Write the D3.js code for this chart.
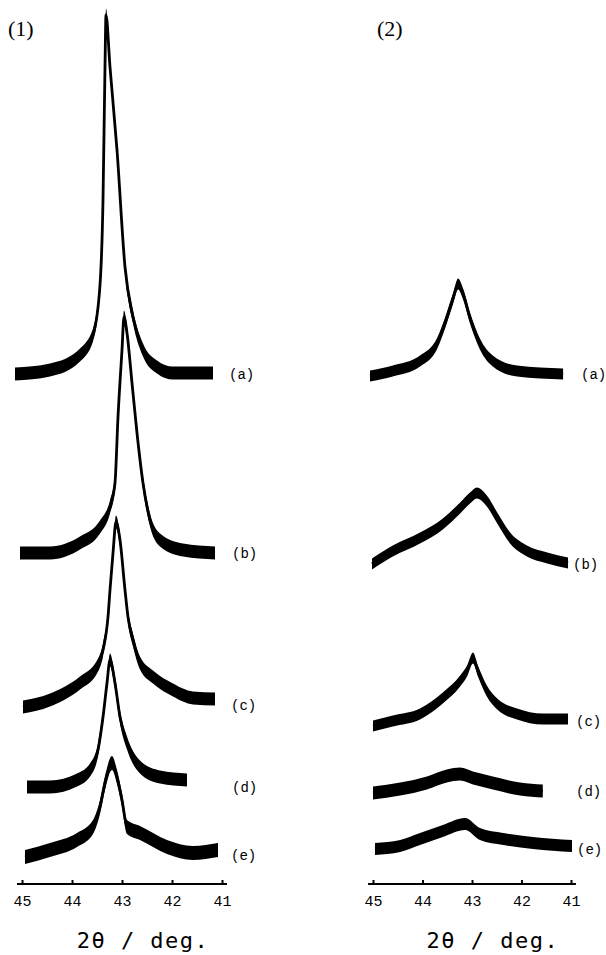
<!DOCTYPE html>
<html>
<head>
<meta charset="utf-8">
<script src="https://cdn.jsdelivr.net/npm/d3@7"></script>
<style>
  body { margin: 0; background: #fff; }
  svg { display: block; }
</style>
</head>
<body>
<svg id="main-svg" width="606" height="955"></svg>
<script>
'use strict';

// trace labels and axis ticks
const traceNames = ['(a)', '(b)', '(c)', '(d)', '(e)'];
const tickValues = [45, 44, 43, 42, 41];
const panelNames = ['(1)', '(2)'];

// panel (1): 2theta points and intensity above each trace's offset (a.u.)
const p1Theta = [
    [45.14, 44.44, 43.84, 43.58, 43.44, 43.38, 43.34, 43.32, 43.24, 43.10, 42.94, 42.78, 42.58, 42.30, 41.98, 41.18],
    [45.04, 44.44, 43.84, 43.44, 43.24, 43.14, 43.08, 43.00, 42.96, 42.90, 42.80, 42.70, 42.58, 42.44, 42.24, 41.78, 41.14],
    [44.98, 44.44, 43.84, 43.50, 43.38, 43.28, 43.24, 43.18, 43.12, 43.04, 42.94, 42.88, 42.78, 42.64, 42.38, 41.98, 41.58, 41.14],
    [44.90, 44.44, 43.90, 43.64, 43.48, 43.38, 43.30, 43.24, 43.14, 43.04, 42.90, 42.64, 42.24, 41.70],
    [44.94, 44.44, 43.90, 43.58, 43.44, 43.34, 43.20, 43.10, 43.00, 42.90, 42.64, 42.10, 41.58, 41.08],
];
const p1Int = [
    [0, 4, 19, 39, 89, 174, 307, 359, 307, 224, 107, 57, 24, 7, 1, 1],
    [0, 0, 10, 26, 46, 70, 136, 203, 236, 220, 170, 120, 70, 33, 13, 3, 0],
    [-2, 5, 22, 38, 55, 88, 115, 152, 183, 165, 115, 88, 65, 42, 28, 15, 7, 6],
    [0, 0, 7, 17, 37, 70, 104, 127, 104, 70, 44, 20, 10, 7],
    [-2, 5, 15, 28, 48, 72, 92, 78, 55, 28, 22, 8, 2, 5],
];
const p1Offset = [510, 331, 179, 97, 29];
const p1Noise = [13, 13, 13, 13, 14];

// panel (2)
const p2Theta = [
    [45.06, 44.60, 44.05, 43.71, 43.51, 43.38, 43.28, 43.18, 43.04, 42.84, 42.58, 42.09, 41.16],
    [45.02, 44.60, 44.05, 43.59, 43.24, 43.04, 42.90, 42.70, 42.49, 42.23, 41.89, 41.48, 41.06],
    [45.00, 44.60, 44.05, 43.59, 43.24, 43.10, 42.98, 42.88, 42.70, 42.49, 42.09, 41.57, 41.06],
    [45.00, 44.45, 43.91, 43.51, 43.24, 42.98, 42.58, 42.03, 41.57],
    [44.96, 44.45, 44.05, 43.59, 43.14, 42.84, 42.37, 41.77, 40.98],
];
const p2Int = [
    [-2, 3, 13, 30, 56, 76, 90, 80, 56, 30, 13, 3, 0],
    [0, 13, 26, 40, 56, 66, 71, 63, 46, 26, 13, 6, 1],
    [-5, 0, 7, 23, 40, 50, 63, 50, 30, 17, 7, 2, 2],
    [-2, 2, 8, 15, 17, 13, 8, 2, 0],
    [0, 3, 10, 18, 25, 15, 10, 6, 3],
];
const p2Offset = [510, 320, 163, 93, 35];
const p2Noise = [11, 11, 11, 13, 12];


const Render = () => {
    const svg = d3.select('#main-svg');
    const y = d3.scaleLinear().domain([0, 884]).range([884, 0]);
    const mono = '"Liberation Mono", "DejaVu Sans Mono", monospace';

    const drawPanel = (cfg) => {
        const x = d3.scaleLinear().domain([45, 41]).range(cfg.range);
        const g = svg.append('g');

        cfg.theta.forEach((th, i) => {
            const pts = th.map((t, j) => ({t: t, v: cfg.offset[i] + cfg.int[i][j]}));
            const half = cfg.noise[i] / 2;

            // noise band round the trace
            g.append('path')
                .datum(pts)
                .attr('fill', '#000')
                .attr('d', d3.area()
                    .curve(d3.curveMonotoneX)
                    .x(d => x(d.t))
                    .y0(d => y(d.v) + half)
                    .y1(d => y(d.v) - half));

            g.append('path')
                .datum(pts)
                .attr('fill', 'none')
                .attr('stroke', '#000')
                .attr('stroke-width', 2.8)
                .attr('stroke-linejoin', 'round')
                .attr('d', d3.line()
                    .curve(d3.curveMonotoneX)
                    .x(d => x(d.t))
                    .y(d => y(d.v)));

            g.append('text')
                .attr('x', cfg.labelX[i])
                .attr('y', y(cfg.offset[i]) + 5)
                .style('font-family', mono)
                .style('font-size', '14px')
                .text(traceNames[i]);
        });

        // x axis, ticks pointing up
        const axis = g.append('g')
            .attr('transform', `translate(0,${y(0)})`)
            .call(d3.axisBottom(x)
                .tickValues(tickValues)
                .tickFormat(d3.format('d'))
                .tickSizeInner(-4)
                .tickSizeOuter(0)
                .tickPadding(11));
        axis.select('.domain').remove();
        axis.selectAll('.tick line').attr('stroke-width', 2);
        axis.selectAll('.tick text')
            .style('font-family', mono)
            .style('font-size', '15px')
            .attr('fill', '#000');
        axis.append('line')
            .attr('x1', x(45.1)).attr('x2', x(40.9))
            .attr('stroke', '#000')
            .attr('stroke-width', 2);

        g.append('text')
            .attr('x', x(42.58))
            .attr('y', 948)
            .attr('text-anchor', 'middle')
            .style('font-family', '"DejaVu Sans Mono", monospace')
            .style('font-size', '22px')
            .style('letter-spacing', '1.5px')
            .text('2θ / deg.');

        g.append('text')
            .attr('x', cfg.nameX)
            .attr('y', 36)
            .style('font-family', '"Liberation Serif", "Times New Roman", serif')
            .style('font-size', '22px')
            .text(cfg.name);
    };

    return {
        draw: () => {
            drawPanel({range: [22, 222], theta: p1Theta, int: p1Int, offset: p1Offset,
                noise: p1Noise, labelX: [229, 232, 231, 232, 231], nameX: 8, name: panelNames[0]});
            drawPanel({range: [373, 571], theta: p2Theta, int: p2Int, offset: p2Offset,
                noise: p2Noise, labelX: [581, 573, 576, 576, 577], nameX: 377, name: panelNames[1]});
        },
    };
};

Render().draw();
</script>
</body>
</html>
